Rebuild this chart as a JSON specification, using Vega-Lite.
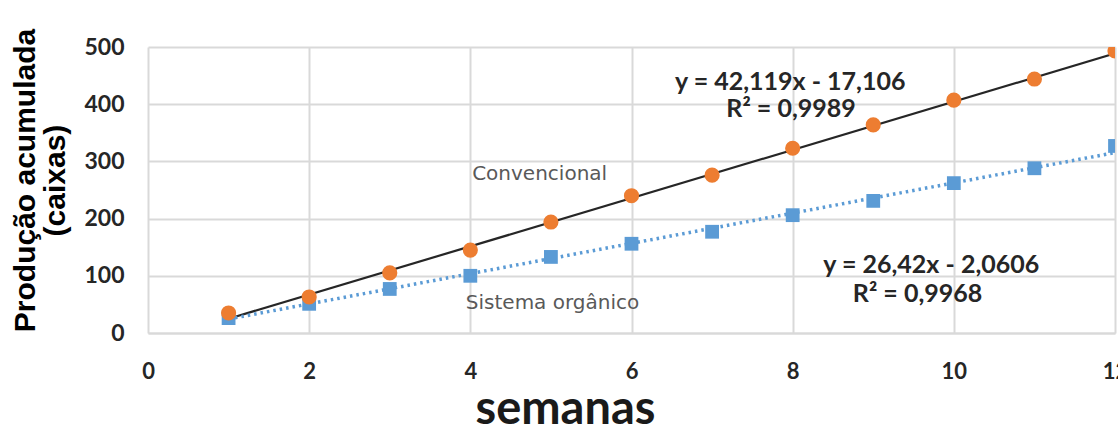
{
  "$schema": "https://vega.github.io/schema/vega-lite/v6.json",
  "width": 967,
  "height": 286,
  "autosize": {"type": "none"},
  "padding": {"left": 148, "top": 47, "right": 3, "bottom": 103},
  "background": "white",
  "config": {"view": {"stroke": null}},
  "datasets": {
    "pts": [
      {"semana": 1, "producao": 35, "sistema": "Convencional"},
      {"semana": 2, "producao": 63, "sistema": "Convencional"},
      {"semana": 3, "producao": 105, "sistema": "Convencional"},
      {"semana": 4, "producao": 145, "sistema": "Convencional"},
      {"semana": 5, "producao": 194, "sistema": "Convencional"},
      {"semana": 6, "producao": 240, "sistema": "Convencional"},
      {"semana": 7, "producao": 276, "sistema": "Convencional"},
      {"semana": 8, "producao": 323, "sistema": "Convencional"},
      {"semana": 9, "producao": 364, "sistema": "Convencional"},
      {"semana": 10, "producao": 407, "sistema": "Convencional"},
      {"semana": 11, "producao": 444, "sistema": "Convencional"},
      {"semana": 12, "producao": 493, "sistema": "Convencional"},
      {"semana": 1, "producao": 26, "sistema": "Sistema orgânico"},
      {"semana": 2, "producao": 51, "sistema": "Sistema orgânico"},
      {"semana": 3, "producao": 77, "sistema": "Sistema orgânico"},
      {"semana": 4, "producao": 100, "sistema": "Sistema orgânico"},
      {"semana": 5, "producao": 133, "sistema": "Sistema orgânico"},
      {"semana": 6, "producao": 156, "sistema": "Sistema orgânico"},
      {"semana": 7, "producao": 177, "sistema": "Sistema orgânico"},
      {"semana": 8, "producao": 206, "sistema": "Sistema orgânico"},
      {"semana": 9, "producao": 231, "sistema": "Sistema orgânico"},
      {"semana": 10, "producao": 262, "sistema": "Sistema orgânico"},
      {"semana": 11, "producao": 288, "sistema": "Sistema orgânico"},
      {"semana": 12, "producao": 327, "sistema": "Sistema orgânico"}
    ],
    "trend": [
      {"semana": 1, "producao": 25, "sistema": "Convencional"},
      {"semana": 12.1, "producao": 493, "sistema": "Convencional"},
      {"semana": 1, "producao": 24.4, "sistema": "Sistema orgânico"},
      {"semana": 12.1, "producao": 318, "sistema": "Sistema orgânico"}
    ],
    "labels": [
      {"semana": 7.97, "producao": 425, "texto": "y = 42,119x - 17,106", "tipo": "eq"},
      {"semana": 7.98, "producao": 377, "texto": "R² = 0,9989", "tipo": "eq"},
      {"semana": 9.72, "producao": 105, "texto": "y = 26,42x - 2,0606", "tipo": "eq"},
      {"semana": 9.55, "producao": 55, "texto": "R² = 0,9968", "tipo": "eq"},
      {"semana": 4.86, "producao": 268, "texto": "Convencional", "tipo": "nome"},
      {"semana": 5.02, "producao": 42, "texto": "Sistema orgânico", "tipo": "nome"}
    ]
  },
  "encoding": {
    "x": {
      "field": "semana",
      "type": "quantitative",
      "scale": {"domain": [0, 12], "nice": false, "zero": true},
      "axis": {
        "values": [0, 2, 4, 6, 8, 10, 12],
        "title": "semanas",
        "titleFont": "Lato",
        "titleFontSize": 47,
        "titleFontWeight": "bold",
        "titleColor": "#1a1a1a",
        "titleBaseline": "alphabetic",
        "titleX": 417,
        "titleY": 90,
        "labelFont": "Lato",
        "labelFontSize": 22,
        "labelFontWeight": "bold",
        "labelColor": "#262626",
        "labelPadding": 28,
        "labelFlush": false,
        "ticks": false,
        "domain": true,
        "domainColor": "#d9d9d9",
        "domainWidth": 2,
        "grid": true,
        "gridColor": "#d9d9d9",
        "gridWidth": 2
      }
    },
    "y": {
      "field": "producao",
      "type": "quantitative",
      "scale": {"domain": [0, 500], "nice": false},
      "axis": {
        "values": [0, 100, 200, 300, 400, 500],
        "title": ["Produção acumulada", "(caixas)"],
        "titleFont": "Liberation Sans",
        "titleFontSize": 30,
        "titleFontWeight": "bold",
        "titleColor": "#000000",
        "titleAngle": -90,
        "titleAlign": "center",
        "titleBaseline": "alphabetic",
        "titleX": -114,
        "titleY": 133,
        "titleLineHeight": 30,
        "labelFont": "Lato",
        "labelFontSize": 23,
        "labelFontWeight": "bold",
        "labelColor": "#262626",
        "labelPadding": 24,
        "ticks": false,
        "domain": false,
        "grid": true,
        "gridColor": "#d9d9d9",
        "gridWidth": 2
      }
    }
  },
  "layer": [
    {
      "data": {"name": "trend"},
      "transform": [{"filter": "datum.sistema === 'Convencional'"}],
      "mark": {"type": "line", "color": "#262626", "strokeWidth": 2.2, "clip": true},
      "encoding": {}
    },
    {
      "data": {"name": "trend"},
      "transform": [{"filter": "datum.sistema === 'Sistema orgânico'"}],
      "mark": {"type": "line", "color": "#5B9BD5", "strokeWidth": 3.5, "strokeDash": [2.5, 4], "clip": true},
      "encoding": {}
    },
    {
      "data": {"name": "pts"},
      "transform": [{"filter": "datum.sistema === 'Sistema orgânico'"}],
      "mark": {"type": "point", "shape": "square", "filled": true, "size": 190, "color": "#5B9BD5", "opacity": 1, "clip": true},
      "encoding": {}
    },
    {
      "data": {"name": "pts"},
      "transform": [{"filter": "datum.sistema === 'Convencional'"}],
      "mark": {"type": "point", "shape": "circle", "filled": true, "size": 230, "color": "#ED7D31", "opacity": 1, "clip": true},
      "encoding": {}
    },
    {
      "data": {"name": "labels"},
      "transform": [{"filter": "datum.tipo === 'eq'"}],
      "mark": {"type": "text", "font": "Lato", "fontSize": 25, "fontWeight": "bold", "color": "#262626", "align": "center", "baseline": "alphabetic"},
      "encoding": {"text": {"field": "texto", "type": "nominal"}}
    },
    {
      "data": {"name": "labels"},
      "transform": [{"filter": "datum.tipo === 'nome'"}],
      "mark": {"type": "text", "font": "DejaVu Sans", "fontSize": 20, "fontWeight": "normal", "color": "#595959", "align": "center", "baseline": "alphabetic"},
      "encoding": {"text": {"field": "texto", "type": "nominal"}}
    }
  ]
}
